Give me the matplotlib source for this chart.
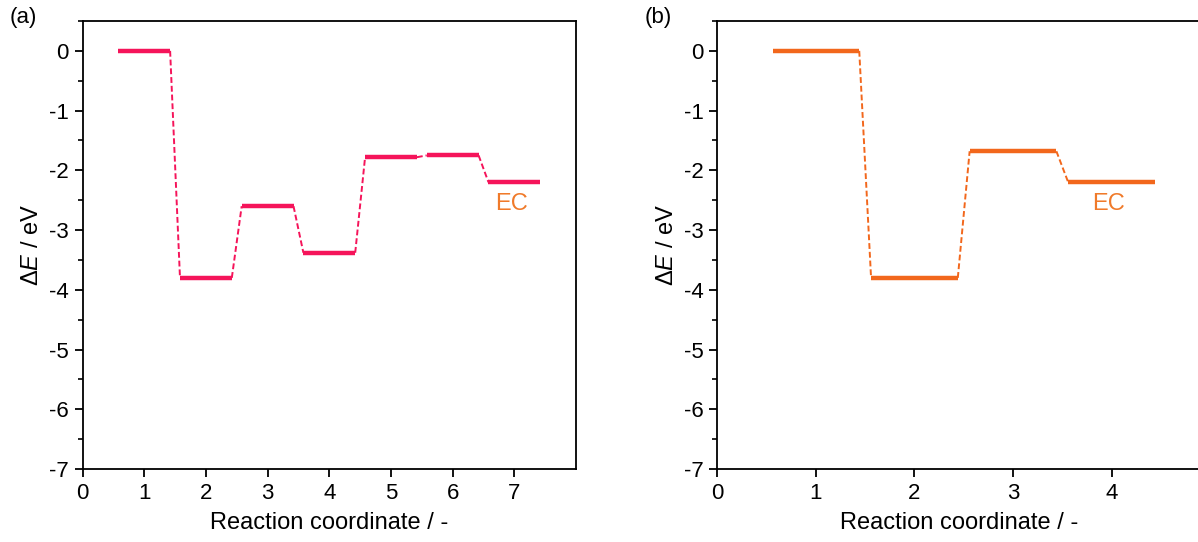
import numpy as np
import matplotlib.pyplot as plt
from matplotlib.ticker import MultipleLocator

plt.rcParams['font.family'] = ['Liberation Sans', 'DejaVu Sans']
plt.rcParams['mathtext.fontset'] = 'custom'
plt.rcParams['mathtext.rm'] = 'Liberation Sans'
plt.rcParams['mathtext.it'] = 'Liberation Sans:italic'
plt.rcParams['axes.unicode_minus'] = False

# energy levels
steps_a = [1, 2, 3, 4, 5, 6, 7]
energy_a = [0.0, -3.80, -2.60, -3.38, -1.78, -1.75, -2.20]
steps_b = [1, 2, 3, 4]
energy_b = [0.0, -3.80, -1.68, -2.20]

color_a = '#f5145a'
color_b = '#f2671c'
label_color = '#f07a2a'


def draw_levels(ax, steps, energy, color, half):
    for s, e in zip(steps, energy):
        ax.plot([s - half, s + half], [e, e], color=color, lw=3.2, solid_capstyle='butt')
    for i in range(len(steps) - 1):
        ax.plot([steps[i] + half, steps[i + 1] - half], [energy[i], energy[i + 1]],
                color=color, lw=1.4, ls=(0, (3, 1.5)))


def style_axes(ax, xmax, nticks):
    ax.set_xlim(0, xmax)
    ax.set_ylim(-7, 0.5)
    ax.set_xticks(range(nticks))
    ax.yaxis.set_major_locator(MultipleLocator(1))
    ax.yaxis.set_minor_locator(MultipleLocator(0.5))
    ax.tick_params(which='major', direction='out', length=6, width=1.3, labelsize=16, pad=4)
    ax.tick_params(which='minor', direction='out', length=3.5, width=1.2)
    for sp in ax.spines.values():
        sp.set_linewidth(1.3)
    ax.set_xlabel('Reaction coordinate / -', fontsize=17, labelpad=6)
    ax.set_ylabel(r'Δ$\it{E}$ / eV', fontsize=17, labelpad=4)


fig = plt.figure(figsize=(11.98, 5.42), dpi=100)
ax1 = fig.add_axes([82.5 / 1198, 1 - 469 / 542, 493.6 / 1198, 448 / 542])
ax2 = fig.add_axes([717.3 / 1198, 1 - 469 / 542, 483 / 1198, 448 / 542])

draw_levels(ax1, steps_a, energy_a, color_a, 0.42)
draw_levels(ax2, steps_b, energy_b, color_b, 0.44)
style_axes(ax1, 8, 8)
style_axes(ax2, 4.9, 5)

ax1.text(steps_a[-1] - 0.05, energy_a[-1] - 0.36, 'EC', color=label_color,
         fontsize=17, ha='center', va='center')
ax2.text(steps_b[-1] - 0.03, energy_b[-1] - 0.36, 'EC', color=label_color,
         fontsize=17, ha='center', va='center')

fig.text(10 / 1198, 1 - 18 / 542, '(a)', fontsize=16, va='center')
fig.text(645 / 1198, 1 - 18 / 542, '(b)', fontsize=16, va='center')

fig.savefig('out.png', dpi=100)
